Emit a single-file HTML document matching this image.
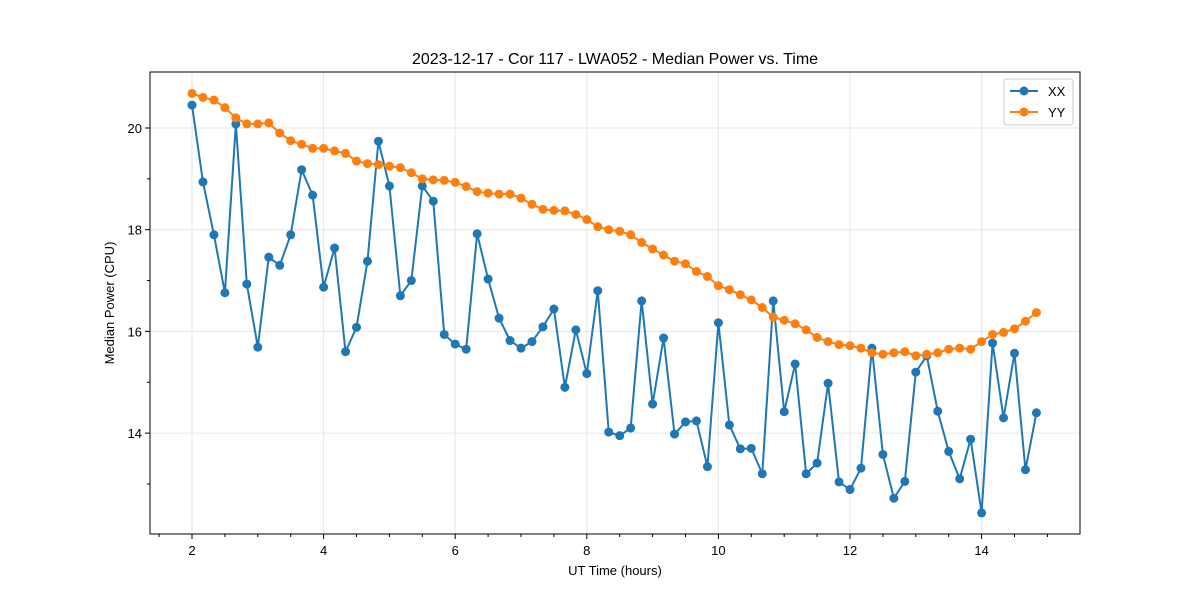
<!DOCTYPE html>
<html><head><meta charset="utf-8"><style>
body{margin:0;background:#fff;}
svg text{font-family:"Liberation Sans","DejaVu Sans",sans-serif;fill:#000;}
</style></head><body>
<svg id="chart" width="1200" height="600" xmlns="http://www.w3.org/2000/svg">
<rect width="1200" height="600" fill="#fff"/>
<g id="grid"></g><g id="axes"></g><g id="series"></g>
<text x="615" y="64" text-anchor="middle" font-size="16">2023-12-17 - Cor 117 - LWA052 - Median Power vs. Time</text>
<text x="615" y="575" text-anchor="middle" font-size="13">UT Time (hours)</text>
<text x="114" y="303" text-anchor="middle" font-size="13" transform="rotate(-90 114 303)">Median Power (CPU)</text>
<g>
<rect x="1004" y="79" width="69" height="46" rx="3" fill="#fff" stroke="#ccc"/>
<g><line x1="1010" y1="91" x2="1038" y2="91" stroke="#1f77b4" stroke-width="2"/><circle cx="1024" cy="91" r="4.5" fill="#1f77b4"/><text x="1048" y="96" font-size="13">XX</text></g>
<g><line x1="1010" y1="112" x2="1038" y2="112" stroke="#ff7f0e" stroke-width="2"/><circle cx="1024" cy="112" r="4.5" fill="#ff7f0e"/><text x="1048" y="117" font-size="13">YY</text></g>
</g>
</svg>
<script>
const xx = [20.45,18.94,17.9,16.76,20.08,16.93,15.69,17.46,17.3,17.9,19.18,18.68,16.87,17.64,15.6,16.08,17.38,19.74,18.86,16.7,17.0,18.86,18.56,15.94,15.75,15.65,17.92,17.03,16.26,15.82,15.67,15.8,16.09,16.44,14.9,16.03,15.17,16.8,14.02,13.95,14.1,16.6,14.57,15.87,13.98,14.22,14.24,13.34,16.17,14.16,13.69,13.7,13.2,16.6,14.42,15.36,13.2,13.41,14.98,13.04,12.89,13.31,15.67,13.58,12.72,13.05,15.2,15.52,14.43,13.64,13.1,13.88,12.43,15.77,14.3,15.57,13.28,14.4];
const yy = [20.68,20.6,20.55,20.4,20.2,20.08,20.08,20.1,19.9,19.75,19.68,19.6,19.6,19.55,19.5,19.35,19.3,19.28,19.25,19.22,19.12,19.0,18.98,18.97,18.93,18.85,18.75,18.72,18.7,18.7,18.62,18.5,18.4,18.38,18.37,18.3,18.2,18.06,18.0,17.97,17.9,17.75,17.62,17.5,17.38,17.33,17.18,17.08,16.9,16.82,16.72,16.62,16.47,16.28,16.22,16.15,16.03,15.88,15.8,15.74,15.72,15.67,15.58,15.55,15.58,15.6,15.52,15.55,15.58,15.65,15.67,15.65,15.8,15.94,15.98,16.05,16.2,16.37];
const startHour = 2, stepHour = 1/6;
const xTicks = [2,4,6,8,10,12,14];
const yTicks = [14,16,18,20];
const L=150,R=1080,T=72,B=534;
const sx = h => 192 + (h-2)*65.8;
const sy = v => 128 + (20-v)*50.85;
const NS="http://www.w3.org/2000/svg";
function mk(tag,attrs,parent){const e=document.createElementNS(NS,tag);for(const k in attrs)e.setAttribute(k,attrs[k]);parent.appendChild(e);return e;}
const grid=document.getElementById('grid'),axes=document.getElementById('axes'),ser=document.getElementById('series');
xTicks.forEach(t=>{const x=sx(t);
 const g=mk('line',{x1:x,x2:x,y1:T,y2:B,stroke:'#e6e6e6','stroke-width':1},grid);
 
 
 mk('line',{x1:x,x2:x,y1:B,y2:B+5,stroke:'#000'},axes);
 const tx=mk('text',{x:x,y:B+21,'text-anchor':'middle','font-size':13},axes);tx.textContent=t;
 
 });
for(let h=1.5;h<=15;h+=0.5){if(xTicks.includes(h))continue;const x=sx(h);if(x<L||x>R)continue;mk('line',{x1:x,x2:x,y1:B,y2:B+3,stroke:'#000'},axes);}
yTicks.forEach(t=>{const y=sy(t);
 const g=mk('line',{x1:L,x2:R,y1:y,y2:y,stroke:'#e6e6e6','stroke-width':1},grid);
 
 
 mk('line',{x1:L-5,x2:L,y1:y,y2:y,stroke:'#000'},axes);
 const tx=mk('text',{x:L-8,y:y+5,'text-anchor':'end','font-size':13},axes);tx.textContent=t;
 
 });
[13,15,17,19].forEach(t=>{const y=sy(t);mk('line',{x1:L-3,x2:L,y1:y,y2:y,stroke:'#000'},axes);});
mk('rect',{x:L,y:T,width:R-L,height:B-T,fill:'none',stroke:'#000','stroke-width':1},axes);
function draw(vals,color,name){
 const pts=vals.map((v,i)=>[sx(startHour+i*stepHour),sy(v)]);
 const pl=mk('polyline',{points:pts.map(p=>p.join(',')).join(' '),fill:'none',stroke:color,'stroke-width':2},ser);
 
 
 pts.forEach(p=>{const c=mk('circle',{cx:p[0],cy:p[1],r:4.5,fill:color},ser);
 
 });
}
draw(xx,'#1f77b4','xx');
draw(yy,'#ff7f0e','yy');
</script>
</body></html>
